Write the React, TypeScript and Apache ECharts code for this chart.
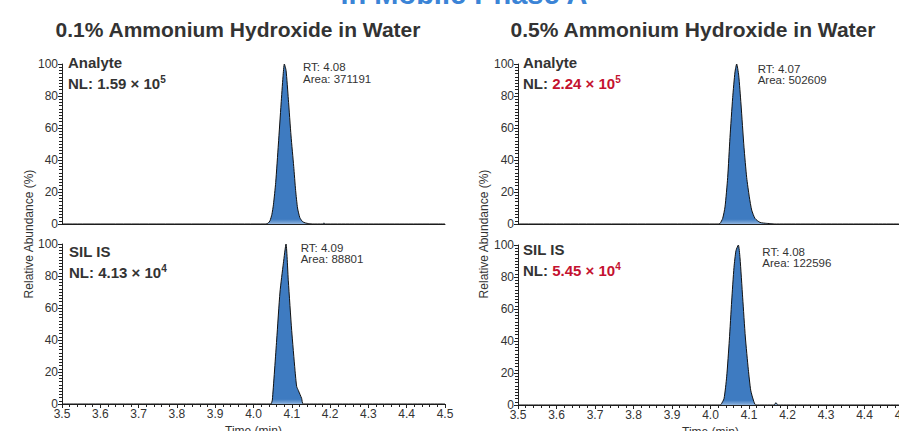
import React, { useEffect, useRef } from "react";
import * as echarts from "echarts";

// ---- data ----
const mainTitle = "in Mobile Phase A";
const panelTitles = ["0.1% Ammonium Hydroxide in Water", "0.5% Ammonium Hydroxide in Water"];
const xTickMin = 3.5;
const xTickMax = 4.5;
const xTickStep = 0.1;
const yTickMax = 100;
const yTickStep = 20;

// 0.1% – Analyte
const a1Time = [3.5, 4.03, 4.038, 4.043, 4.048, 4.052, 4.058, 4.065, 4.072, 4.077, 4.0805, 4.085, 4.091, 4.098, 4.105, 4.11, 4.115, 4.121, 4.128, 4.135, 4.145, 4.155, 4.18, 4.184, 4.188, 4.5];
const a1Value = [0, 0, 0.5, 2, 6, 12, 26, 50, 75, 92, 100, 96, 78, 55, 36, 21, 10, 4, 1.5, 0.7, 0.2, 0, 0, 0.6, 0, 0];
// 0.1% – SIL IS
const s1Time = [3.5, 4.046, 4.0475, 4.0492, 4.0605, 4.0692, 4.078, 4.0849, 4.0909, 4.0997, 4.1084, 4.1127, 4.117, 4.1257, 4.13, 4.5];
const s1Value = [0, 0, 0, 2.5, 40, 70, 88, 100, 77, 46, 21, 11, 8.5, 3.5, 0, 0];
// 0.5% – Analyte
const a2Time = [3.5, 4.02, 4.0247, 4.0316, 4.0377, 4.0446, 4.0506, 4.0576, 4.0636, 4.068, 4.0732, 4.0792, 4.087, 4.094, 4.1008, 4.107, 4.1156, 4.1286, 4.146, 4.159, 4.165, 4.5];
const a2Value = [0, 0, 0.3, 3.5, 10.7, 29, 54, 79, 95, 100, 93, 75, 48, 29, 17, 8.7, 3.5, 1, 0.4, 0.2, 0, 0];
// 0.5% – SIL IS
const s2Time = [3.5, 4.025, 4.0273, 4.0351, 4.042, 4.0489, 4.055, 4.061, 4.0662, 4.0723, 4.0766, 4.0836, 4.0905, 4.0983, 4.1044, 4.1113, 4.1174, 4.165, 4.1701, 4.175, 4.5];
const s2Value = [0, 0, 0.3, 4, 17.6, 40.5, 65, 86, 96.5, 100, 92, 67, 42.5, 22, 9.3, 3.1, 0, 0, 1.5, 0, 0];

const traceNames = ["Analyte", "SIL IS", "Analyte", "SIL IS"];
const nlMantissa = ["1.59", "4.13", "2.24", "5.45"];
const nlExponent = ["5", "4", "5", "4"];
const rtValues = ["4.08", "4.09", "4.07", "4.08"];
const areaValues = ["371191", "88801", "502609", "122596"];

const FONT = '"Liberation Sans", Arial, Helvetica, sans-serif';
const DARK = "#333333";
const RED = "#c41230";
const BLUE_FILL = "#3e7bc1";

function zip(t: number[], v: number[]) {
  return t.map((x, i) => [x, v[i]]);
}

export default function App() {
  const ref = useRef<HTMLDivElement>(null);
  useEffect(() => {
    if (!ref.current) return;
    const chart = echarts.init(ref.current, undefined, { renderer: "svg" });

    const grids = [
      { left: 62, top: 64, width: 383, height: 160, outerBoundsMode: "none", containLabel: false },
      { left: 62, top: 244, width: 383, height: 160, outerBoundsMode: "none", containLabel: false },
      { left: 518, top: 64, width: 385, height: 160, outerBoundsMode: "none", containLabel: false },
      { left: 518, top: 245, width: 385, height: 160, outerBoundsMode: "none", containLabel: false },
    ];
    const isBottom = [false, true, false, true];

    const xAxes = grids.map((_, i) => ({
      type: "value",
      gridIndex: i,
      min: xTickMin,
      max: xTickMax,
      interval: xTickStep,
      name: isBottom[i] ? "Time (min)" : "",
      nameLocation: "middle",
      nameGap: 21,
      nameTextStyle: { fontSize: 12, color: DARK, fontFamily: FONT },
      axisLine: { show: true, onZero: false, lineStyle: { color: "#222", width: 1 } },
      axisTick: { show: isBottom[i], length: 4, lineStyle: { color: "#222" } },
      minorTick: { show: isBottom[i], splitNumber: 5, length: 3, lineStyle: { color: "#222" } },
      axisLabel: {
        show: isBottom[i],
        fontSize: 12,
        color: DARK,
        fontFamily: FONT,
        margin: 4,
        showMaxLabel: true,
        showMinLabel: true,
        formatter: (v: number) => v.toFixed(1),
      },
      splitLine: { show: false },
    }));

    const yAxes = grids.map((_, i) => ({
      type: "value",
      gridIndex: i,
      min: 0,
      max: yTickMax,
      interval: yTickStep,
      axisLine: { show: true, lineStyle: { color: "#222", width: 1 } },
      axisTick: { show: true, length: 4, lineStyle: { color: "#222" } },
      minorTick: { show: true, splitNumber: 10, length: 3, lineStyle: { color: "#222" } },
      axisLabel: { fontSize: 12, color: DARK, fontFamily: FONT, margin: 4 },
      splitLine: { show: false },
    }));

    const datasets = [zip(a1Time, a1Value), zip(s1Time, s1Value), zip(a2Time, a2Value), zip(s2Time, s2Value)];
    const fill = new echarts.graphic.LinearGradient(0, 0, 0, 1, [
      { offset: 0, color: BLUE_FILL },
      { offset: 0.97, color: BLUE_FILL },
      { offset: 1, color: "#8fb3dd" },
    ]);
    const series = datasets.map((d, i) => ({
      type: "line",
      xAxisIndex: i,
      yAxisIndex: i,
      data: d,
      smooth: 0.2,
      symbol: "none",
      lineStyle: { color: "#111", width: 1 },
      areaStyle: { color: fill, opacity: 1 },
    }));

    const labelX = [68, 69, 523, 523];
    const nameY = [62.6, 251.5, 62.8, 249.2];
    const nlY = [83.5, 272.5, 83.8, 270.8];
    const rtX = [303, 300.7, 757.7, 762.3];
    const rtY = [61.5, 242, 63, 246];

    const graphics: any[] = [
      {
        type: "text",
        x: 464,
        y: -6.5,
        style: { text: mainTitle, fontSize: 29, fontWeight: "bold", fontFamily: FONT, fill: "#3b84d6", align: "center", verticalAlign: "middle" },
      },
      {
        type: "text",
        x: 238,
        y: 29,
        style: { text: panelTitles[0], fontSize: 21, fontWeight: "bold", fontFamily: FONT, fill: DARK, align: "center", verticalAlign: "middle" },
      },
      {
        type: "text",
        x: 693,
        y: 29,
        style: { text: panelTitles[1], fontSize: 21, fontWeight: "bold", fontFamily: FONT, fill: DARK, align: "center", verticalAlign: "middle" },
      },
      {
        type: "text",
        x: 29,
        y: 234,
        rotation: Math.PI / 2,
        style: { text: "Relative Abundance (%)", fontSize: 12, fontFamily: FONT, fill: DARK, align: "center", verticalAlign: "middle" },
      },
      {
        type: "text",
        x: 484,
        y: 234,
        rotation: Math.PI / 2,
        style: { text: "Relative Abundance (%)", fontSize: 12, fontFamily: FONT, fill: DARK, align: "center", verticalAlign: "middle" },
      },
    ];

    for (let i = 0; i < 4; i++) {
      const valColor = i >= 2 ? RED : DARK;
      graphics.push({
        type: "text",
        x: labelX[i],
        y: nameY[i],
        style: { text: traceNames[i], fontSize: 15, fontWeight: "bold", fontFamily: FONT, fill: DARK, align: "left", verticalAlign: "middle" },
      });
      graphics.push({
        type: "text",
        x: labelX[i],
        y: nlY[i],
        style: {
          text: `{n|NL: }{v|${nlMantissa[i]} × 10}{s|${nlExponent[i]}}`,
          align: "left",
          verticalAlign: "middle",
          rich: {
            n: { fontSize: 15, fontWeight: "bold", fontFamily: FONT, fill: DARK, color: DARK, lineHeight: 18 },
            v: { fontSize: 15, fontWeight: "bold", fontFamily: FONT, fill: valColor, color: valColor, lineHeight: 18 },
            s: { fontSize: 10, fontWeight: "bold", fontFamily: FONT, fill: valColor, color: valColor, lineHeight: 10, verticalAlign: "top" },
          },
        },
      });
      graphics.push({
        type: "text",
        x: rtX[i],
        y: rtY[i],
        style: {
          text: `RT: ${rtValues[i]}\nArea: ${areaValues[i]}`,
          fontSize: 11.5,
          lineHeight: 11.5,
          fontFamily: FONT,
          fill: DARK,
          align: "left",
          verticalAlign: "top",
        },
      });
    }

    chart.setOption({
      animation: false,
      backgroundColor: "#ffffff",
      textStyle: { fontFamily: FONT },
      grid: grids,
      xAxis: xAxes,
      yAxis: yAxes,
      series,
      graphic: graphics,
    } as any);

    return () => chart.dispose();
  }, []);

  return <div ref={ref} style={{ position: "fixed", left: 0, top: 0, width: 899, height: 431 }} />;
}
